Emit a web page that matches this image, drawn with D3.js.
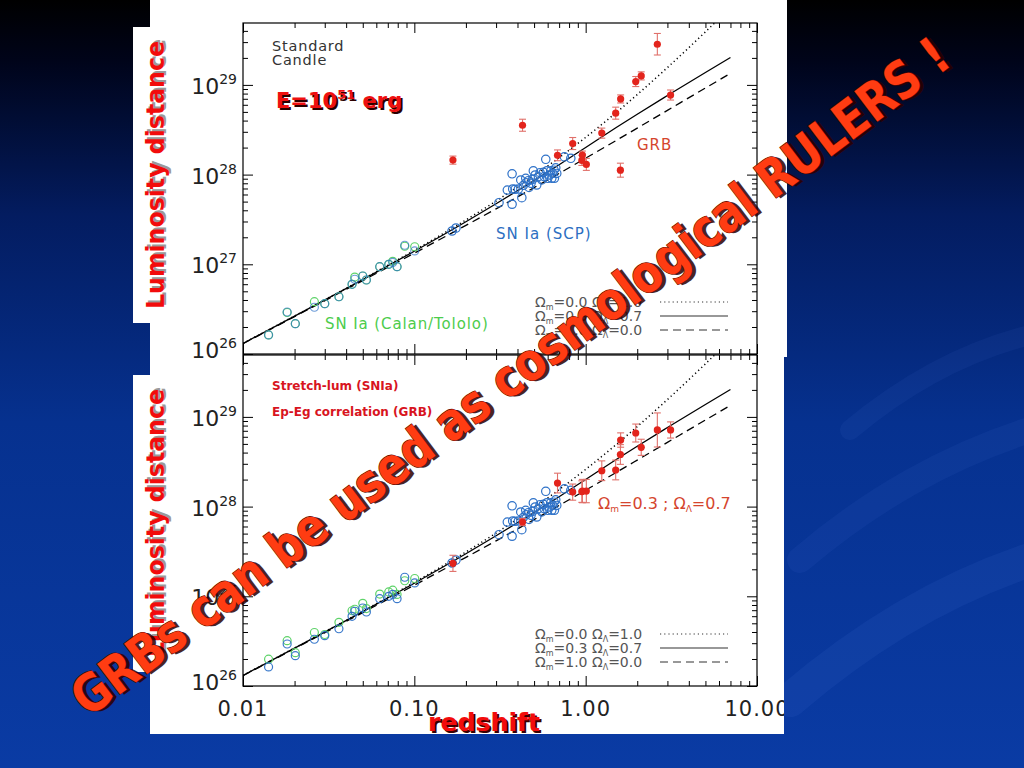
<!DOCTYPE html>
<html><head><meta charset="utf-8">
<script src="https://cdn.jsdelivr.net/npm/d3@7"></script>
<style>html,body{margin:0;padding:0;background:#000;overflow:hidden}</style>
</head><body>
<svg id="c" width="1024" height="768" xmlns="http://www.w3.org/2000/svg"></svg>
<script>
// ---------------- DATA ----------------
// cosmological model curves (luminosity distance, units of 1e26 cm)
const modelZ      = [0.01,0.02,0.05,0.1,0.2,0.3,0.5,0.7,1,1.5,2,3,5,7];
const modelOpenL  = [1.313,2.652,6.825,14.30,31.2,50.7,97.5,154.7,260,487.5,780,1560,3900,7280]; // Om=0.0 OL=1.0
const modelFlat   = [1.310,2.640,6.749,13.99,29.81,47.29,85.98,128.8,200.6,332.4,471.4,760.3,1376,2021]; // Om=0.3 OL=0.7
const modelEdS    = [1.303,2.613,6.579,13.31,27.18,41.55,71.57,103.0,152.3,238.9,329.7,520,923.1,1344.6]; // Om=1.0 OL=0.0

// low-z SN Ia (Calan/Tololo), dL in 1e26 cm
const lowZ        = [0.0141,0.0181,0.0202,0.0261,0.0300,0.0363,0.0433,0.0449,0.0500,0.0525,0.0628,0.0709,0.0748,0.0793,0.0879,0.1005];
const lowBlue     = [1.63,2.94,2.18,3.32,3.64,4.35,5.98,6.81,7.41,6.68,9.40,10.0,10.5,9.40,16.3,14.1];
const lowGreenTop = [1.63,2.90,2.18,3.83,3.64,4.35,5.98,7.20,7.41,6.68,9.40,10.0,10.8,9.40,15.9,15.7];
const lowGreenBot = [1.99,3.20,2.35,3.95,3.75,5.13,6.90,7.17,8.35,7.30,10.6,11.2,11.7,10.5,14.9,15.8];

// SN Ia (SCP), dL in 1e27 cm
const scpZ  = [0.166,0.175,0.312,0.349,0.372,0.372,0.375,0.387,0.405,0.418,0.424,0.433,0.447,0.449,0.463,0.467,0.480,0.491,0.495,0.507,0.518,0.530,0.542,0.555,0.567,0.572,0.585,0.593,0.601,0.614,0.625,0.634,0.643,0.654,0.657,0.669,0.678,0.751,0.819];
const scpDL = [2.35,2.54,4.86,6.73,4.67,10.2,6.91,6.86,6.91,8.71,5.53,7.60,9.09,8.12,8.55,7.21,8.00,8.87,11.0,9.90,7.66,9.48,10.5,8.71,10.6,9.48,14.8,11.0,9.09,9.90,11.0,9.09,10.3,11.2,9.09,11.9,10.3,15.8,15.2];

// GRBs, dL in 1e28 cm, errors in dex
const grbZ      = [0.168,0.428,0.685,0.840,0.957,0.950,1.009,1.242,1.497,1.60,1.595,1.96,2.11,2.62,3.13];
const grbTopDL  = [1.45,3.55,1.64,2.22,1.65,1.44,1.30,2.90,4.84,6.97,1.12,10.9,12.6,28.4,7.71];
const grbTopErr = [0.045,0.067,0.06,0.067,0.045,0.056,0.067,0.056,0.067,0.045,0.078,0.056,0.045,0.12,0.056];
const grbBotDL  = [0.233,0.673,1.83,1.45,1.49,1.47,1.49,2.51,2.56,5.52,3.81,6.61,4.58,7.15,7.15];
const grbBotErr = [0.09,0.04,0.11,0.09,0.13,0.12,0.13,0.11,0.11,0.08,0.11,0.10,0.09,0.19,0.09];

// tick labels
const xTickVals   = [0.01,0.1,1,10];
const xTickLabels = ['0.01','0.10','1.00','10.00'];
const yTickExp    = [26,27,28,29];

// legends
const legOm = ['0.0','0.3','1.0'];
const legOL = ['1.0','0.7','0.0'];
const legDash = ['1.2,3','none','8,5'];

// ---------------- DRAW ----------------
const W=1024,H=768;
const svg=d3.select('#c');
const defs=svg.append('defs');
const FONT='DejaVu Sans, Verdana, sans-serif';

const bg=defs.append('linearGradient').attr('id','bg').attr('gradientUnits','userSpaceOnUse')
  .attr('x1',0).attr('y1',0).attr('x2',0).attr('y2',H);
[[0,'#000000'],[0.08,'#00041a'],[0.28,'#031c60'],[0.55,'#06318f'],[1,'#0a3ba4']]
  .forEach(s=>bg.append('stop').attr('offset',s[0]).attr('stop-color',s[1]));
svg.append('rect').attr('width',W).attr('height',H).attr('fill','url(#bg)');

// decorative streaks on the right
const streaks=svg.append('g').attr('fill','none').attr('stroke','#6f9cff').attr('stroke-linecap','round');
streaks.append('path').attr('d','M790,700 C860,640 940,590 1030,560').attr('stroke-width',34).attr('opacity',0.07);
streaks.append('path').attr('d','M800,560 C870,500 950,455 1030,430').attr('stroke-width',26).attr('opacity',0.06);
streaks.append('path').attr('d','M850,430 C910,380 970,350 1030,335').attr('stroke-width',20).attr('opacity',0.06);

// white image areas
svg.append('rect').attr('x',150).attr('y',0).attr('width',637).attr('height',357).attr('fill','#fff');
svg.append('rect').attr('x',150).attr('y',357).attr('width',634).attr('height',377).attr('fill','#fff');
svg.append('rect').attr('x',133).attr('y',27).attr('width',30).attr('height',296).attr('fill','#fff');
svg.append('rect').attr('x',133).attr('y',375).attr('width',30).attr('height',297).attr('fill','#fff');

defs.append('clipPath').attr('id','whiteClip').append('rect').attr('x',150).attr('y',0).attr('width',634).attr('height',734);

const x=d3.scaleLog().domain([0.01,10]).range([243,757]);
const yMax=Math.pow(10,29.69);

const minX=[]; for(let e=-2;e<=0;e++) for(let k=2;k<=9;k++) minX.push(+(k*Math.pow(10,e)).toPrecision(3));
const majY=yTickExp.map(e=>Math.pow(10,e));
const minY=[]; for(let e=26;e<=29;e++) for(let k=2;k<=9;k++){const v=k*Math.pow(10,e); if(v<yMax) minY.push(v);}

const panels=[
  {y0:23,y1:354,green:lowGreenTop,grbDL:grbTopDL,grbErr:grbTopErr,top:true},
  {y0:355,y1:686,green:lowGreenBot,grbDL:grbBotDL,grbErr:grbBotErr,top:false}
];

panels.forEach((p,pi)=>{
  const y=d3.scaleLog().domain([1e26,yMax]).range([p.y1,p.y0]);
  const g=svg.append('g');
  const cid='clip'+pi;
  defs.append('clipPath').attr('id',cid).append('rect')
    .attr('x',243).attr('y',p.y0).attr('width',514).attr('height',p.y1-p.y0);
  const plot=g.append('g').attr('clip-path',`url(#${cid})`);

  // model curves
  const line=d3.line().x(d=>x(d[0])).y(d=>y(d[1]*1e26)).curve(d3.curveMonotoneX);
  [[modelOpenL,legDash[0]],[modelFlat,legDash[1]],[modelEdS,legDash[2]]].forEach(([arr,dash])=>{
    plot.append('path').datum(modelZ.map((z,i)=>[z,arr[i]]))
      .attr('d',line).attr('fill','none').attr('stroke','#000')
      .attr('stroke-width',dash==='1.2,3'?1.5:1.3).attr('stroke-dasharray',dash);
  });

  // low-z SN: green then blue
  plot.append('g').selectAll('circle').data(lowZ.map((z,i)=>[z,p.green[i]])).join('circle')
    .attr('cx',d=>x(d[0])).attr('cy',d=>y(d[1]*1e26)).attr('r',4)
    .attr('fill','none').attr('stroke','#5fd36a').attr('stroke-width',1.2);
  plot.append('g').selectAll('circle').data(lowZ.map((z,i)=>[z,lowBlue[i]])).join('circle')
    .attr('cx',d=>x(d[0])).attr('cy',d=>y(d[1]*1e26)).attr('r',4)
    .attr('fill','none').attr('stroke','#2f72c8').attr('stroke-width',1.2).attr('opacity',p.top?0.7:0.95);
  // SCP
  plot.append('g').selectAll('circle').data(scpZ.map((z,i)=>[z,scpDL[i]])).join('circle')
    .attr('cx',d=>x(d[0])).attr('cy',d=>y(d[1]*1e27)).attr('r',4.2)
    .attr('fill','none').attr('stroke','#2f72c8').attr('stroke-width',1.2);

  // GRB
  const grb=grbZ.map((z,i)=>({z,v:p.grbDL[i]*1e28,e:p.grbErr[i]}));
  const eg=plot.append('g').attr('stroke','#e0706a').attr('stroke-width',1.1);
  grb.forEach(d=>{
    const cx=x(d.z), yl=y(d.v*Math.pow(10,-d.e)), yh=y(d.v*Math.pow(10,d.e));
    eg.append('line').attr('x1',cx).attr('x2',cx).attr('y1',yl).attr('y2',yh);
    eg.append('line').attr('x1',cx-3.5).attr('x2',cx+3.5).attr('y1',yl).attr('y2',yl);
    eg.append('line').attr('x1',cx-3.5).attr('x2',cx+3.5).attr('y1',yh).attr('y2',yh);
  });
  plot.append('g').selectAll('circle').data(grb).join('circle')
    .attr('cx',d=>x(d.z)).attr('cy',d=>y(d.v)).attr('r',3.6).attr('fill','#e3241c');

  // axes (ticks inward on all four sides)
  const ax=(a,tr)=>{const gg=g.append('g').attr('transform',tr).call(a); gg.select('.domain').remove();
    gg.selectAll('line').attr('stroke','#000').attr('stroke-width',1); return gg;};
  ax(d3.axisTop(x).tickValues(xTickVals).tickSize(10).tickSizeOuter(0).tickFormat(''),`translate(0,${p.y1})`);
  ax(d3.axisTop(x).tickValues(minX).tickSize(5).tickSizeOuter(0).tickFormat(''),`translate(0,${p.y1})`);
  ax(d3.axisBottom(x).tickValues(xTickVals).tickSize(10).tickSizeOuter(0).tickFormat(''),`translate(0,${p.y0})`);
  ax(d3.axisBottom(x).tickValues(minX).tickSize(5).tickSizeOuter(0).tickFormat(''),`translate(0,${p.y0})`);
  ax(d3.axisRight(y).tickValues(majY).tickSize(10).tickSizeOuter(0).tickFormat(''),`translate(243,0)`);
  ax(d3.axisRight(y).tickValues(minY).tickSize(5).tickSizeOuter(0).tickFormat(''),`translate(243,0)`);
  ax(d3.axisLeft(y).tickValues(majY).tickSize(10).tickSizeOuter(0).tickFormat(''),`translate(757,0)`);
  ax(d3.axisLeft(y).tickValues(minY).tickSize(5).tickSizeOuter(0).tickFormat(''),`translate(757,0)`);
  g.append('rect').attr('x',243).attr('y',p.y0).attr('width',514).attr('height',p.y1-p.y0)
    .attr('fill','none').attr('stroke','#000').attr('stroke-width',1.2);

  // y tick labels 10^n
  yTickExp.forEach(e=>{
    const ty=y(Math.pow(10,e)) - (e===26?5:0);
    const t=g.append('text').attr('x',237).attr('y',ty+9).attr('text-anchor','end')
      .attr('font-family',FONT).attr('fill','#222');
    t.append('tspan').attr('font-size',22).text('10');
    t.append('tspan').attr('font-size',14).attr('dy',-10).text(String(e));
  });

  // legend
  legOm.forEach((om,i)=>{
    const cy=p.y1-52+i*14;
    const t=g.append('text').attr('x',535).attr('y',cy+5).attr('font-family',FONT)
      .attr('font-size',14).attr('fill','#555');
    t.append('tspan').text('Ω');
    t.append('tspan').attr('font-size',8).attr('dy',3).text('m');
    t.append('tspan').attr('dy',-3).text('='+om+' ');
    t.append('tspan').text('Ω');
    t.append('tspan').attr('font-size',8).attr('dy',3).text('Λ');
    t.append('tspan').attr('dy',-3).text('='+legOL[i]);
    g.append('line').attr('x1',660).attr('x2',728).attr('y1',cy).attr('y2',cy)
      .attr('stroke','#333').attr('stroke-width',1.2).attr('stroke-dasharray',legDash[i]);
  });
});

// x tick labels (bottom only), clipped at the white image edge
const xl=svg.append('g').attr('clip-path','url(#whiteClip)');
xTickVals.forEach((v,i)=>{
  xl.append('text').attr('x',x(v)).attr('y',716).attr('text-anchor','middle')
    .attr('font-family',FONT).attr('font-size',21).attr('letter-spacing',1).attr('fill','#222').text(xTickLabels[i]);
});

// panel texts
const txt=(s,xx,yy,size,fill,opts={})=>{
  const t=svg.append('text').attr('x',xx).attr('y',yy).attr('font-family',opts.font||FONT)
    .attr('font-size',size).attr('fill',fill).text(s);
  if(opts.weight) t.attr('font-weight',opts.weight);
  if(opts.ls) t.attr('letter-spacing',opts.ls);
  if(opts.anchor) t.attr('text-anchor',opts.anchor);
  return t;
};
txt('Standard',272,51,14.5,'#333',{ls:0.8});
txt('Candle',272,65,14.5,'#333',{ls:0.8});
txt('GRB',637,150,15,'#d5452e',{ls:1});
txt('SN Ia (SCP)',496,239,15,'#2d6fc2',{ls:1});
txt('SN Ia (Calan/Tololo)',325,329,15,'#4ccc4c',{ls:0.9});
txt('Stretch-lum (SNIa)',272,390,12,'#d8141e',{weight:'bold'});
txt('Ep-Eg correlation (GRB)',272,416,12,'#d8141e',{weight:'bold'});
{
  const t=svg.append('text').attr('x',598).attr('y',509).attr('font-family',FONT).attr('font-size',16).attr('fill','#d5452e');
  t.append('tspan').text('Ω'); t.append('tspan').attr('font-size',9).attr('dy',3).text('m');
  t.append('tspan').attr('dy',-3).text('=0.3 ; Ω'); t.append('tspan').attr('font-size',9).attr('dy',3).text('Λ');
  t.append('tspan').attr('dy',-3).text('=0.7');
}
// E=10^51 erg
[[2,2,'#2a0000'],[0,0,'#ee1010']].forEach(([dx,dy,c])=>{
  const t=svg.append('text').attr('x',276+dx).attr('y',108+dy).attr('font-family',FONT)
    .attr('font-weight','bold').attr('font-size',21).attr('fill',c);
  t.append('tspan').text('E=10');
  t.append('tspan').attr('font-size',13).attr('dy',-9).text('51');
  t.append('tspan').attr('dy',9).text(' erg');
});

// axis titles
const shadowText=(s,tr,size,len,shadow)=>{
  svg.append('text').attr('transform',tr).attr('x',2).attr('y',2).attr('text-anchor','middle')
    .attr('font-family',FONT).attr('font-weight','bold').attr('font-size',size)
    .attr('textLength',len).attr('lengthAdjust','spacingAndGlyphs').attr('fill',shadow).text(s);
  svg.append('text').attr('transform',tr).attr('text-anchor','middle')
    .attr('font-family',FONT).attr('font-weight','bold').attr('font-size',size)
    .attr('textLength',len).attr('lengthAdjust','spacingAndGlyphs').attr('fill','#f20c0c').text(s);
};
shadowText('Luminosity distance','translate(164,175) rotate(-90)',25,268,'#9a9a9a');
shadowText('Luminosity distance','translate(164,523) rotate(-90)',25,268,'#9a9a9a');
shadowText('redshift','translate(484,731)',25,112,'#3a0000');

// big overlay caption
const cap='GRBs can be used as cosmological RULERS !';
const capTr='translate(521,391) rotate(-37.1)';
svg.append('text').attr('transform',capTr).attr('x',3).attr('y',3).attr('text-anchor','middle')
  .attr('font-family',FONT).attr('font-weight','bold').attr('font-size',52)
  .attr('textLength',1085).attr('lengthAdjust','spacingAndGlyphs')
  .attr('fill','#2a0000').attr('opacity',0.85).text(cap);
svg.append('text').attr('transform',capTr).attr('text-anchor','middle')
  .attr('font-family',FONT).attr('font-weight','bold').attr('font-size',52)
  .attr('textLength',1085).attr('lengthAdjust','spacingAndGlyphs')
  .attr('fill','#ff3c12').attr('stroke','#5a0800').attr('stroke-width',1.2).attr('paint-order','stroke').text(cap);
</script>
</body></html>
